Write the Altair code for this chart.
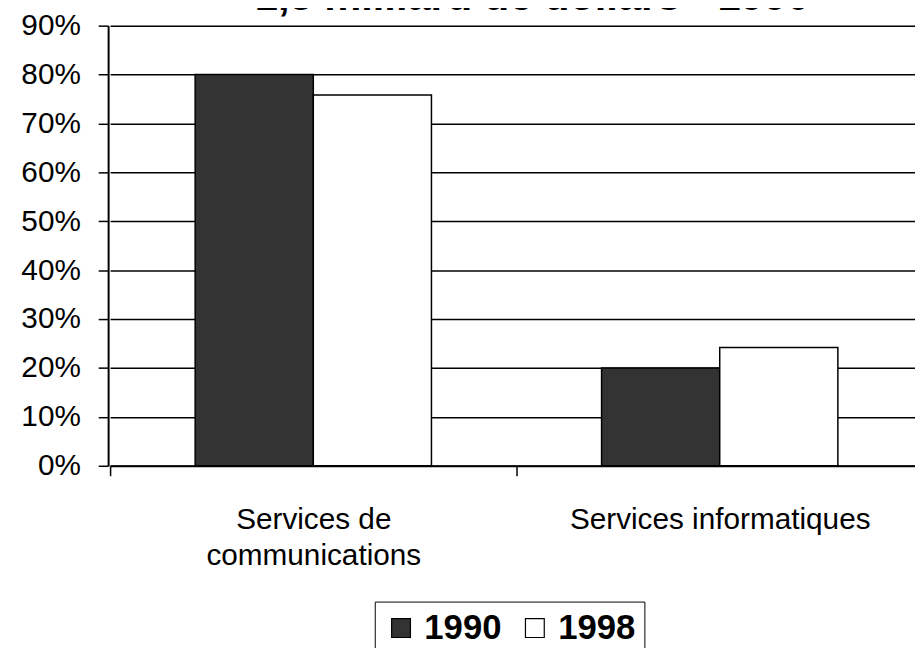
import altair as alt
import pandas as pd

# ---- data ----
categories = ["Services de communications", "Services informatiques"]
years = ["1990", "1998"]
values_1990 = [80.0, 20.0]     # percent
values_1998 = [75.8, 24.2]     # percent
y_ticks = [0, 10, 20, 30, 40, 50, 60, 70, 80, 90]
title_text = "1,5 milliard de dollars - 1990"

rows = []
for i, c in enumerate(categories):
    rows.append({"cat": c, "year": years[0], "value": values_1990[i] / 100})
    rows.append({"cat": c, "year": years[1], "value": values_1998[i] / 100})
df = pd.DataFrame(rows)

FONT = "Liberation Sans"
W, H = 814, 444

label_expr = ("datum.label == 'Services de communications' ? "
              "['Services de', 'communications'] : datum.label")

bars = alt.Chart(df).mark_bar(stroke="black", strokeWidth=1.5).encode(
    x=alt.X(
        "cat:N", sort=categories, title=None,
        scale=alt.Scale(paddingInner=0, paddingOuter=0, range=[2, 822]),
        axis=alt.Axis(
            labelAngle=0, tickBand="extent", grid=False,
            domainColor="black", domainWidth=2, tickColor="black", tickWidth=1.5,
            tickSize=10, labelFontSize=30, labelFont=FONT, labelColor="black",
            labelPadding=29, labelLineHeight=37, labelLimit=600,
            labelExpr=label_expr,
        ),
    ),
    xOffset=alt.XOffset(
        "year:N", sort=years,
        scale=alt.Scale(paddingInner=0, paddingOuter=0.72),
    ),
    y=alt.Y(
        "value:Q", title=None,
        scale=alt.Scale(domain=[0, 0.9], nice=False, zero=True),
        axis=alt.Axis(
            format=".0%", values=[v / 100 for v in y_ticks],
            grid=True, gridColor="black", gridWidth=1.5, gridOpacity=1,
            domainColor="black", domainWidth=2, tickColor="black", tickWidth=1.5,
            tickSize=10, labelFontSize=30, labelFont=FONT, labelColor="black",
            labelPadding=18,
        ),
    ),
    color=alt.Color(
        "year:N", sort=years,
        scale=alt.Scale(domain=years, range=["#333333", "#ffffff"]),
        legend=alt.Legend(
            orient="none", legendX=269, legendY=581, direction="horizontal",
            title=None, strokeColor="black", padding=9,
            symbolType="square", symbolSize=360, symbolStrokeColor="black",
            symbolStrokeWidth=1.2, symbolOpacity=1,
            labelFontSize=35, labelFontWeight="bold", labelFont=FONT,
            labelColor="black", labelOffset=6, columnPadding=16,
        ),
    ),
)

title = alt.Chart(pd.DataFrame({"t": [title_text]})).mark_text(
    font=FONT, fontSize=42, fontWeight="bold", color="black",
    align="center", baseline="alphabetic",
).encode(
    text="t:N",
    x=alt.value(428),
    y=alt.value(-16),
)

chart = alt.layer(bars, title).properties(
    width=W, height=H,
    autosize=alt.AutoSizeParams(type="none"),
    padding={"left": 101, "top": 15, "right": 0, "bottom": 181},
).configure_view(stroke=None).configure(background="white")

chart.save("out.html", embed_options={"renderer": "svg", "actions": False})
